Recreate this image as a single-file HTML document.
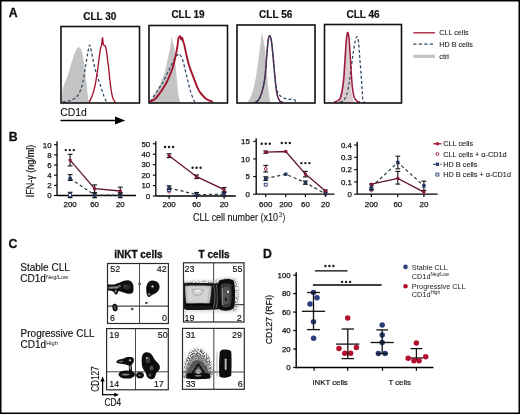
<!DOCTYPE html>
<html><head><meta charset="utf-8"><title>Figure</title><style>
html,body{margin:0;padding:0;background:#fff;overflow:hidden;}
svg{display:block;will-change:transform;font-family:"Liberation Sans",sans-serif;}
</style></head><body>
<svg width="520" height="414" viewBox="0 0 520 414">
<rect x="0" y="0" width="520" height="414" fill="#fff"/>
<filter id="gsoft" x="0" y="0" width="520" height="414" filterUnits="userSpaceOnUse"><feConvolveMatrix order="3" kernelMatrix="0.0289 0.1122 0.0289 0.1122 0.4356 0.1122 0.0289 0.1122 0.0289" divisor="1" edgeMode="duplicate"/></filter>
<g>
<rect x="0.75" y="0.75" width="518.5" height="412.5" fill="none" stroke="#000" stroke-width="1.5"/>
<text x="8.70" y="17.40" font-size="12.30" font-weight="bold" text-anchor="start" fill="#111" stroke="#111" stroke-width="0.3">A</text>
<text x="83.20" y="20.30" font-size="10.00" font-weight="bold" text-anchor="start" fill="#111" stroke="#111" stroke-width="0.2">CLL 30</text>
<text x="171.40" y="18.40" font-size="10.00" font-weight="bold" text-anchor="start" fill="#111" stroke="#111" stroke-width="0.2">CLL 19</text>
<text x="259.10" y="17.70" font-size="10.00" font-weight="bold" text-anchor="start" fill="#111" stroke="#111" stroke-width="0.2">CLL 56</text>
<text x="346.50" y="17.50" font-size="10.00" font-weight="bold" text-anchor="start" fill="#111" stroke="#111" stroke-width="0.2">CLL 46</text>
<clipPath id="hc0"><rect x="61.00" y="26.50" width="78.50" height="76.50"/></clipPath>
<g clip-path="url(#hc0)">
<path d="M62.00 102.50 C62.05 100.75 61.97 94.92 62.30 92.00 C62.63 89.08 63.08 87.78 64.00 85.00 C64.92 82.22 66.55 79.02 67.80 75.30 C69.05 71.58 70.25 66.68 71.50 62.70 C72.75 58.72 74.30 53.85 75.30 51.40 C76.30 48.95 76.88 48.67 77.50 48.00 C78.12 47.33 78.50 47.32 79.00 47.40 C79.50 47.48 79.87 47.20 80.50 48.50 C81.13 49.80 82.00 51.15 82.80 55.20 C83.60 59.25 84.47 66.10 85.30 72.80 C86.13 79.50 87.17 90.45 87.80 95.40 C88.43 100.35 88.88 101.32 89.10 102.50 L89.10 103.00 L62.00 103.00 Z" fill="#c4c4c4"/>
<path d="M62.50 102.00 C63.80 101.77 68.22 101.23 70.30 100.60 C72.38 99.97 73.75 99.07 75.00 98.20 C76.25 97.33 76.88 96.77 77.80 95.40 C78.72 94.03 79.67 92.10 80.50 90.00 C81.33 87.90 82.00 86.50 82.80 82.80 C83.60 79.10 84.47 72.82 85.30 67.80 C86.13 62.78 87.08 56.47 87.80 52.70 C88.52 48.93 88.97 45.20 89.60 45.20 C90.23 45.20 90.63 48.52 91.60 52.70 C92.57 56.88 93.93 64.87 95.40 70.30 C96.87 75.73 98.95 80.92 100.40 85.30 C101.85 89.68 103.07 93.85 104.10 96.60 C105.13 99.35 106.18 100.93 106.60 101.80" fill="none" stroke="#2e4862" stroke-width="1.25" stroke-dasharray="3 2.2"/>
<path d="M89.00 102.40 C89.48 101.43 90.93 99.18 91.90 96.60 C92.87 94.02 93.98 90.45 94.80 86.90 C95.62 83.35 96.15 79.53 96.80 75.30 C97.45 71.07 98.18 65.38 98.70 61.50 C99.22 57.62 99.55 54.33 99.90 52.00 C100.25 49.67 100.50 48.75 100.80 47.50 C101.10 46.25 101.47 45.83 101.70 44.50 C101.93 43.17 102.07 40.62 102.20 39.50 C102.33 38.38 102.38 37.63 102.50 37.80 C102.62 37.97 102.75 39.38 102.90 40.50 C103.05 41.62 103.13 43.67 103.40 44.50 C103.67 45.33 104.17 45.22 104.50 45.50 C104.83 45.78 105.15 45.70 105.40 46.20 C105.65 46.70 105.77 47.28 106.00 48.50 C106.23 49.72 106.55 51.67 106.80 53.50 C107.05 55.33 107.20 57.15 107.50 59.50 C107.80 61.85 108.15 63.68 108.60 67.60 C109.05 71.52 109.57 78.17 110.20 83.00 C110.83 87.83 111.58 93.37 112.40 96.60 C113.22 99.83 114.65 101.43 115.10 102.40" fill="none" stroke="#a3142f" stroke-width="1.35"/>
</g>
<rect x="61.00" y="26.50" width="78.50" height="76.50" fill="none" stroke="#111" stroke-width="1.6"/>
<clipPath id="hc1"><rect x="149.00" y="25.50" width="78.50" height="77.50"/></clipPath>
<g clip-path="url(#hc1)">
<path d="M150.00 101.80 C150.97 100.25 153.85 96.00 155.80 92.50 C157.75 89.00 160.07 84.72 161.70 80.80 C163.33 76.88 164.47 73.25 165.60 69.00 C166.73 64.75 167.68 59.22 168.50 55.30 C169.32 51.38 170.00 48.60 170.50 45.50 C171.00 42.40 171.17 37.28 171.50 36.70 C171.83 36.12 172.02 40.20 172.50 42.00 C172.98 43.80 173.92 43.98 174.40 47.50 C174.88 51.02 174.97 57.55 175.40 63.10 C175.83 68.65 176.52 75.57 177.00 80.80 C177.48 86.03 177.75 91.00 178.30 94.50 C178.85 98.00 179.97 100.58 180.30 101.80 L180.30 103.00 L150.00 103.00 Z" fill="#c4c4c4"/>
<path d="M150.50 101.50 C150.85 100.90 151.43 99.73 152.60 97.90 C153.77 96.07 155.83 93.02 157.50 90.50 C159.17 87.98 161.10 85.38 162.60 82.80 C164.10 80.22 165.25 77.50 166.50 75.00 C167.75 72.50 168.65 70.68 170.10 67.80 C171.55 64.92 173.88 59.90 175.20 57.70 C176.52 55.50 177.28 55.18 178.00 54.60 C178.72 54.02 178.72 53.27 179.50 54.20 C180.28 55.13 181.53 56.68 182.70 60.20 C183.87 63.72 185.25 70.28 186.50 75.30 C187.75 80.32 188.95 86.08 190.20 90.30 C191.45 94.52 193.03 98.68 194.00 100.60 C194.97 102.52 195.67 101.60 196.00 101.80" fill="none" stroke="#2e4862" stroke-width="1.25" stroke-dasharray="3 2.2"/>
<path d="M149.60 101.80 C150.50 101.33 153.25 100.50 155.00 99.00 C156.75 97.50 158.52 94.97 160.10 92.80 C161.68 90.63 163.25 88.08 164.50 86.00 C165.75 83.92 166.60 82.38 167.60 80.30 C168.60 78.22 169.65 75.58 170.50 73.50 C171.35 71.42 171.92 70.43 172.70 67.80 C173.48 65.17 174.45 61.05 175.20 57.70 C175.95 54.35 176.67 50.90 177.20 47.70 C177.73 44.50 178.07 40.28 178.40 38.50 C178.73 36.72 178.90 37.38 179.20 37.00 C179.50 36.62 179.87 35.78 180.20 36.20 C180.53 36.62 180.87 39.23 181.20 39.50 C181.53 39.77 181.87 37.47 182.20 37.80 C182.53 38.13 182.85 40.30 183.20 41.50 C183.55 42.70 183.75 42.72 184.30 45.00 C184.85 47.28 185.72 51.83 186.50 55.20 C187.28 58.57 187.97 61.85 189.00 65.20 C190.03 68.55 191.45 71.95 192.70 75.30 C193.95 78.65 195.37 82.60 196.50 85.30 C197.63 88.00 198.45 89.78 199.50 91.50 C200.55 93.22 201.55 94.27 202.80 95.60 C204.05 96.93 205.33 98.47 207.00 99.50 C208.67 100.53 211.83 101.42 212.80 101.80" fill="none" stroke="#a3142f" stroke-width="1.90"/>
</g>
<rect x="149.00" y="25.50" width="78.50" height="77.50" fill="none" stroke="#111" stroke-width="1.6"/>
<clipPath id="hc2"><rect x="237.00" y="25.00" width="78.00" height="78.00"/></clipPath>
<g clip-path="url(#hc2)">
<path d="M247.70 102.30 C248.37 101.00 250.38 98.42 251.70 94.50 C253.02 90.58 254.47 84.68 255.60 78.80 C256.73 72.92 257.68 65.07 258.50 59.20 C259.32 53.33 259.95 47.83 260.50 43.60 C261.05 39.37 261.32 34.45 261.80 33.80 C262.28 33.15 262.80 36.43 263.40 39.70 C264.00 42.97 264.82 47.87 265.40 53.40 C265.98 58.93 266.42 67.03 266.90 72.90 C267.38 78.77 267.75 83.78 268.30 88.60 C268.85 93.42 269.88 99.60 270.20 101.80 L270.20 103.00 L247.70 103.00 Z" fill="#c4c4c4"/>
<path d="M255.60 102.30 C256.25 101.65 258.20 101.02 259.50 98.40 C260.80 95.78 262.42 90.85 263.40 86.60 C264.38 82.35 264.82 78.43 265.40 72.90 C265.98 67.37 266.42 58.93 266.90 53.40 C267.38 47.87 267.83 42.65 268.30 39.70 C268.77 36.75 269.22 35.70 269.70 35.70 C270.18 35.70 270.68 36.75 271.20 39.70 C271.72 42.65 272.30 48.52 272.80 53.40 C273.30 58.28 273.75 64.12 274.20 69.00 C274.65 73.88 275.02 78.45 275.50 82.70 C275.98 86.95 276.35 91.40 277.10 94.50 C277.85 97.60 279.02 100.00 280.00 101.30 C280.98 102.60 282.50 102.13 283.00 102.30" fill="none" stroke="#5e1f4c" stroke-width="1.50"/>
<path d="M256.00 102.30 C256.58 101.65 258.27 101.02 259.50 98.40 C260.73 95.78 262.42 90.85 263.40 86.60 C264.38 82.35 264.82 78.43 265.40 72.90 C265.98 67.37 266.42 58.93 266.90 53.40 C267.38 47.87 267.83 42.68 268.30 39.70 C268.77 36.72 269.22 35.50 269.70 35.50 C270.18 35.50 270.68 36.72 271.20 39.70 C271.72 42.68 272.30 48.52 272.80 53.40 C273.30 58.28 273.75 64.12 274.20 69.00 C274.65 73.88 274.95 78.87 275.50 82.70 C276.05 86.53 276.58 89.72 277.50 92.00 C278.42 94.28 279.77 95.33 281.00 96.40 C282.23 97.47 283.60 97.92 284.90 98.40 C286.20 98.88 287.33 99.15 288.80 99.30 C290.27 99.45 292.50 98.85 293.70 99.30 C294.90 99.75 295.62 101.55 296.00 102.00" fill="none" stroke="#2e4862" stroke-width="1.25" stroke-dasharray="3 2.2"/>
</g>
<rect x="237.00" y="25.00" width="78.00" height="78.00" fill="none" stroke="#111" stroke-width="1.6"/>
<clipPath id="hc3"><rect x="324.50" y="24.50" width="77.00" height="78.50"/></clipPath>
<g clip-path="url(#hc3)">
<path d="M337.80 101.80 C338.30 100.17 339.97 96.30 340.80 92.00 C341.63 87.70 342.17 82.17 342.80 76.00 C343.43 69.83 344.05 61.55 344.60 55.00 C345.15 48.45 345.72 40.57 346.10 36.70 C346.48 32.83 346.58 31.47 346.90 31.80 C347.22 32.13 347.62 34.83 348.00 38.70 C348.38 42.57 348.80 48.95 349.20 55.00 C349.60 61.05 350.02 69.00 350.40 75.00 C350.78 81.00 350.98 86.53 351.50 91.00 C352.02 95.47 353.17 100.00 353.50 101.80 L353.50 103.00 L337.80 103.00 Z" fill="#d9cace"/>
<path d="M340.00 102.00 C340.43 101.88 341.52 102.40 342.60 101.30 C343.68 100.20 345.37 98.67 346.50 95.40 C347.63 92.13 348.58 86.60 349.40 81.70 C350.22 76.80 350.75 70.88 351.40 66.00 C352.05 61.12 352.65 56.63 353.30 52.40 C353.95 48.17 354.65 43.22 355.30 40.60 C355.95 37.98 356.65 36.37 357.20 36.70 C357.75 37.03 358.17 39.02 358.60 42.60 C359.03 46.18 359.37 52.67 359.80 58.20 C360.23 63.73 360.82 70.58 361.20 75.80 C361.58 81.02 361.78 85.25 362.10 89.50 C362.42 93.75 362.62 99.22 363.10 101.30 C363.58 103.38 364.68 101.88 365.00 102.00" fill="none" stroke="#2e4862" stroke-width="1.25" stroke-dasharray="3 2.2"/>
<path d="M334.00 102.00 C334.45 101.88 335.60 102.07 336.70 101.30 C337.80 100.53 339.47 100.67 340.60 97.40 C341.73 94.13 342.78 87.58 343.50 81.70 C344.22 75.82 344.47 68.62 344.90 62.10 C345.33 55.58 345.67 47.48 346.10 42.60 C346.53 37.72 347.05 33.78 347.50 32.80 C347.95 31.82 348.38 33.43 348.80 36.70 C349.22 39.97 349.60 46.53 350.00 52.40 C350.40 58.27 350.80 66.03 351.20 71.90 C351.60 77.77 351.88 83.35 352.40 87.60 C352.92 91.85 353.50 95.12 354.30 97.40 C355.10 99.68 356.25 100.53 357.20 101.30 C358.15 102.07 359.53 101.88 360.00 102.00" fill="none" stroke="#9e1a3c" stroke-width="1.55"/>
</g>
<rect x="324.50" y="24.50" width="77.00" height="78.50" fill="none" stroke="#111" stroke-width="1.6"/>
<line x1="413.30" y1="32.80" x2="435.00" y2="32.80" stroke="#a3142f" stroke-width="1.30" />
<text x="439.30" y="35.20" font-size="7.20" font-weight="normal" text-anchor="start" fill="#222" stroke="#222" stroke-width="0.1">CLL cells</text>
<line x1="413.30" y1="44.20" x2="435.00" y2="44.20" stroke="#2e4862" stroke-width="1.20" stroke-dasharray="3.2 2.3"/>
<text x="439.30" y="46.60" font-size="7.20" font-weight="normal" text-anchor="start" fill="#222" stroke="#222" stroke-width="0.1">HD B cells</text>
<line x1="413.30" y1="56.30" x2="435.00" y2="56.30" stroke="#c6c6c6" stroke-width="3.30" />
<text x="439.30" y="58.60" font-size="7.20" font-weight="normal" text-anchor="start" fill="#222" stroke="#222" stroke-width="0.1">ctrl</text>
<text x="60.20" y="115.80" font-size="10.40" font-weight="normal" text-anchor="start" fill="#111" stroke="#111" stroke-width="0.1">CD1d</text>
<line x1="60.50" y1="120.50" x2="117.00" y2="120.50" stroke="#000" stroke-width="1.35" />
<path d="M125.2 120.5 L115 116.6 L115 124.4 Z" fill="#000"/>
<text x="8.80" y="141.40" font-size="12.30" font-weight="bold" text-anchor="start" fill="#111" stroke="#111" stroke-width="0.3">B</text>
<line x1="57.00" y1="141.30" x2="57.00" y2="195.50" stroke="#000" stroke-width="1.30" />
<line x1="57.00" y1="195.50" x2="136.00" y2="195.50" stroke="#000" stroke-width="1.30" />
<line x1="54.00" y1="195.50" x2="57.00" y2="195.50" stroke="#000" stroke-width="1.10" />
<text x="51.60" y="198.30" font-size="7.90" font-weight="normal" text-anchor="end" fill="#111" stroke="#111" stroke-width="0.25">0</text>
<line x1="54.00" y1="185.34" x2="57.00" y2="185.34" stroke="#000" stroke-width="1.10" />
<text x="51.60" y="188.14" font-size="7.90" font-weight="normal" text-anchor="end" fill="#111" stroke="#111" stroke-width="0.25">2</text>
<line x1="54.00" y1="175.18" x2="57.00" y2="175.18" stroke="#000" stroke-width="1.10" />
<text x="51.60" y="177.98" font-size="7.90" font-weight="normal" text-anchor="end" fill="#111" stroke="#111" stroke-width="0.25">4</text>
<line x1="54.00" y1="165.02" x2="57.00" y2="165.02" stroke="#000" stroke-width="1.10" />
<text x="51.60" y="167.82" font-size="7.90" font-weight="normal" text-anchor="end" fill="#111" stroke="#111" stroke-width="0.25">6</text>
<line x1="54.00" y1="154.86" x2="57.00" y2="154.86" stroke="#000" stroke-width="1.10" />
<text x="51.60" y="157.66" font-size="7.90" font-weight="normal" text-anchor="end" fill="#111" stroke="#111" stroke-width="0.25">8</text>
<line x1="54.00" y1="144.70" x2="57.00" y2="144.70" stroke="#000" stroke-width="1.10" />
<text x="51.60" y="147.50" font-size="7.90" font-weight="normal" text-anchor="end" fill="#111" stroke="#111" stroke-width="0.25">10</text>
<line x1="70.10" y1="195.50" x2="70.10" y2="198.20" stroke="#000" stroke-width="1.20" />
<line x1="94.60" y1="195.50" x2="94.60" y2="198.20" stroke="#000" stroke-width="1.20" />
<line x1="120.30" y1="195.50" x2="120.30" y2="198.20" stroke="#000" stroke-width="1.20" />
<text x="70.10" y="206.90" font-size="7.90" font-weight="normal" text-anchor="middle" fill="#111" stroke="#111" stroke-width="0.25">200</text>
<text x="94.60" y="206.90" font-size="7.90" font-weight="normal" text-anchor="middle" fill="#111" stroke="#111" stroke-width="0.25">60</text>
<text x="120.30" y="206.90" font-size="7.90" font-weight="normal" text-anchor="middle" fill="#111" stroke="#111" stroke-width="0.25">20</text>
<line x1="70.10" y1="192.30" x2="70.10" y2="197.60" stroke="#1a1a1a" stroke-width="1.15" />
<line x1="67.70" y1="192.30" x2="72.50" y2="192.30" stroke="#1a1a1a" stroke-width="1.15" />
<line x1="67.70" y1="197.60" x2="72.50" y2="197.60" stroke="#1a1a1a" stroke-width="1.15" />
<circle cx="70.10" cy="195.00" r="1.45" fill="#fff" stroke="#9a1a30" stroke-width="0.9"/>
<rect x="68.65" y="193.55" width="2.9" height="2.9" fill="#fff" stroke="#2b3d72" stroke-width="0.9"/>
<polyline points="70.10,178.50 94.60,195.00 120.30,195.00" fill="none" stroke="#28403f" stroke-width="1.25" stroke-dasharray="3.2 2.6"/>
<line x1="70.10" y1="174.60" x2="70.10" y2="180.40" stroke="#1a1a1a" stroke-width="1.15" />
<line x1="67.70" y1="174.60" x2="72.50" y2="174.60" stroke="#1a1a1a" stroke-width="1.15" />
<line x1="67.70" y1="180.40" x2="72.50" y2="180.40" stroke="#1a1a1a" stroke-width="1.15" />
<rect x="68.40" y="176.80" width="3.4" height="3.4" fill="#24355c"/>
<line x1="94.60" y1="192.50" x2="94.60" y2="197.60" stroke="#1a1a1a" stroke-width="1.15" />
<line x1="92.20" y1="192.50" x2="97.00" y2="192.50" stroke="#1a1a1a" stroke-width="1.15" />
<line x1="92.20" y1="197.60" x2="97.00" y2="197.60" stroke="#1a1a1a" stroke-width="1.15" />
<rect x="92.90" y="193.30" width="3.4" height="3.4" fill="#24355c"/>
<line x1="120.30" y1="192.50" x2="120.30" y2="197.60" stroke="#1a1a1a" stroke-width="1.15" />
<line x1="117.90" y1="192.50" x2="122.70" y2="192.50" stroke="#1a1a1a" stroke-width="1.15" />
<line x1="117.90" y1="197.60" x2="122.70" y2="197.60" stroke="#1a1a1a" stroke-width="1.15" />
<rect x="118.60" y="193.30" width="3.4" height="3.4" fill="#24355c"/>
<polyline points="70.10,160.10 94.60,188.70 120.30,191.00" fill="none" stroke="#64132d" stroke-width="1.3"/>
<line x1="70.10" y1="154.30" x2="70.10" y2="165.90" stroke="#1a1a1a" stroke-width="1.15" />
<line x1="67.70" y1="154.30" x2="72.50" y2="154.30" stroke="#1a1a1a" stroke-width="1.15" />
<line x1="67.70" y1="165.90" x2="72.50" y2="165.90" stroke="#1a1a1a" stroke-width="1.15" />
<circle cx="70.10" cy="160.10" r="1.7" fill="#8a1733"/>
<line x1="94.60" y1="184.90" x2="94.60" y2="193.00" stroke="#1a1a1a" stroke-width="1.15" />
<line x1="92.20" y1="184.90" x2="97.00" y2="184.90" stroke="#1a1a1a" stroke-width="1.15" />
<line x1="92.20" y1="193.00" x2="97.00" y2="193.00" stroke="#1a1a1a" stroke-width="1.15" />
<circle cx="94.60" cy="188.70" r="1.7" fill="#8a1733"/>
<line x1="120.30" y1="187.20" x2="120.30" y2="193.90" stroke="#1a1a1a" stroke-width="1.15" />
<line x1="117.90" y1="187.20" x2="122.70" y2="187.20" stroke="#1a1a1a" stroke-width="1.15" />
<line x1="117.90" y1="193.90" x2="122.70" y2="193.90" stroke="#1a1a1a" stroke-width="1.15" />
<circle cx="120.30" cy="191.00" r="1.7" fill="#8a1733"/>
<circle cx="65.80" cy="150.10" r="1.2" fill="#1a1a1a"/>
<circle cx="69.80" cy="150.10" r="1.2" fill="#1a1a1a"/>
<circle cx="73.80" cy="150.10" r="1.2" fill="#1a1a1a"/>
<line x1="155.80" y1="141.30" x2="155.80" y2="196.00" stroke="#000" stroke-width="1.30" />
<line x1="155.80" y1="196.00" x2="235.80" y2="196.00" stroke="#000" stroke-width="1.30" />
<line x1="152.80" y1="196.00" x2="155.80" y2="196.00" stroke="#000" stroke-width="1.10" />
<text x="150.20" y="198.80" font-size="7.90" font-weight="normal" text-anchor="end" fill="#111" stroke="#111" stroke-width="0.25">0</text>
<line x1="152.80" y1="185.56" x2="155.80" y2="185.56" stroke="#000" stroke-width="1.10" />
<text x="150.20" y="188.36" font-size="7.90" font-weight="normal" text-anchor="end" fill="#111" stroke="#111" stroke-width="0.25">10</text>
<line x1="152.80" y1="175.12" x2="155.80" y2="175.12" stroke="#000" stroke-width="1.10" />
<text x="150.20" y="177.92" font-size="7.90" font-weight="normal" text-anchor="end" fill="#111" stroke="#111" stroke-width="0.25">20</text>
<line x1="152.80" y1="164.68" x2="155.80" y2="164.68" stroke="#000" stroke-width="1.10" />
<text x="150.20" y="167.48" font-size="7.90" font-weight="normal" text-anchor="end" fill="#111" stroke="#111" stroke-width="0.25">30</text>
<line x1="152.80" y1="154.24" x2="155.80" y2="154.24" stroke="#000" stroke-width="1.10" />
<text x="150.20" y="157.04" font-size="7.90" font-weight="normal" text-anchor="end" fill="#111" stroke="#111" stroke-width="0.25">40</text>
<line x1="152.80" y1="143.80" x2="155.80" y2="143.80" stroke="#000" stroke-width="1.10" />
<text x="150.20" y="146.60" font-size="7.90" font-weight="normal" text-anchor="end" fill="#111" stroke="#111" stroke-width="0.25">50</text>
<line x1="169.10" y1="196.00" x2="169.10" y2="198.70" stroke="#000" stroke-width="1.20" />
<line x1="196.60" y1="196.00" x2="196.60" y2="198.70" stroke="#000" stroke-width="1.20" />
<line x1="224.10" y1="196.00" x2="224.10" y2="198.70" stroke="#000" stroke-width="1.20" />
<text x="169.10" y="206.90" font-size="7.90" font-weight="normal" text-anchor="middle" fill="#111" stroke="#111" stroke-width="0.25">200</text>
<text x="196.60" y="206.90" font-size="7.90" font-weight="normal" text-anchor="middle" fill="#111" stroke="#111" stroke-width="0.25">60</text>
<text x="224.10" y="206.90" font-size="7.90" font-weight="normal" text-anchor="middle" fill="#111" stroke="#111" stroke-width="0.25">20</text>
<circle cx="169.10" cy="191.70" r="1.45" fill="#fff" stroke="#9a1a30" stroke-width="0.9"/>
<rect x="167.65" y="188.55" width="2.9" height="2.9" fill="#fff" stroke="#2b3d72" stroke-width="0.9"/>
<polyline points="169.10,187.90 196.60,194.70 224.10,194.20" fill="none" stroke="#28403f" stroke-width="1.25" stroke-dasharray="3.2 2.6"/>
<line x1="169.10" y1="185.80" x2="169.10" y2="189.60" stroke="#1a1a1a" stroke-width="1.15" />
<line x1="166.70" y1="185.80" x2="171.50" y2="185.80" stroke="#1a1a1a" stroke-width="1.15" />
<line x1="166.70" y1="189.60" x2="171.50" y2="189.60" stroke="#1a1a1a" stroke-width="1.15" />
<rect x="167.40" y="186.20" width="3.4" height="3.4" fill="#24355c"/>
<line x1="196.60" y1="192.50" x2="196.60" y2="196.00" stroke="#1a1a1a" stroke-width="1.15" />
<line x1="194.20" y1="192.50" x2="199.00" y2="192.50" stroke="#1a1a1a" stroke-width="1.15" />
<line x1="194.20" y1="196.00" x2="199.00" y2="196.00" stroke="#1a1a1a" stroke-width="1.15" />
<rect x="194.90" y="193.00" width="3.4" height="3.4" fill="#24355c"/>
<line x1="224.10" y1="192.50" x2="224.10" y2="196.00" stroke="#1a1a1a" stroke-width="1.15" />
<line x1="221.70" y1="192.50" x2="226.50" y2="192.50" stroke="#1a1a1a" stroke-width="1.15" />
<line x1="221.70" y1="196.00" x2="226.50" y2="196.00" stroke="#1a1a1a" stroke-width="1.15" />
<rect x="222.40" y="192.50" width="3.4" height="3.4" fill="#24355c"/>
<polyline points="169.10,155.70 196.60,176.70 224.10,189.60" fill="none" stroke="#64132d" stroke-width="1.3"/>
<line x1="169.10" y1="153.80" x2="169.10" y2="157.60" stroke="#1a1a1a" stroke-width="1.15" />
<line x1="166.70" y1="153.80" x2="171.50" y2="153.80" stroke="#1a1a1a" stroke-width="1.15" />
<line x1="166.70" y1="157.60" x2="171.50" y2="157.60" stroke="#1a1a1a" stroke-width="1.15" />
<circle cx="169.10" cy="155.70" r="1.7" fill="#8a1733"/>
<line x1="196.60" y1="175.00" x2="196.60" y2="178.50" stroke="#1a1a1a" stroke-width="1.15" />
<line x1="194.20" y1="175.00" x2="199.00" y2="175.00" stroke="#1a1a1a" stroke-width="1.15" />
<line x1="194.20" y1="178.50" x2="199.00" y2="178.50" stroke="#1a1a1a" stroke-width="1.15" />
<circle cx="196.60" cy="176.70" r="1.7" fill="#8a1733"/>
<line x1="224.10" y1="187.50" x2="224.10" y2="191.70" stroke="#1a1a1a" stroke-width="1.15" />
<line x1="221.70" y1="187.50" x2="226.50" y2="187.50" stroke="#1a1a1a" stroke-width="1.15" />
<line x1="221.70" y1="191.70" x2="226.50" y2="191.70" stroke="#1a1a1a" stroke-width="1.15" />
<circle cx="224.10" cy="189.60" r="1.7" fill="#8a1733"/>
<circle cx="165.10" cy="147.00" r="1.2" fill="#1a1a1a"/>
<circle cx="169.10" cy="147.00" r="1.2" fill="#1a1a1a"/>
<circle cx="173.10" cy="147.00" r="1.2" fill="#1a1a1a"/>
<circle cx="192.60" cy="167.80" r="1.2" fill="#1a1a1a"/>
<circle cx="196.60" cy="167.80" r="1.2" fill="#1a1a1a"/>
<circle cx="200.60" cy="167.80" r="1.2" fill="#1a1a1a"/>
<line x1="256.20" y1="138.20" x2="256.20" y2="194.20" stroke="#000" stroke-width="1.30" />
<line x1="256.20" y1="194.20" x2="334.40" y2="194.20" stroke="#000" stroke-width="1.30" />
<line x1="253.20" y1="194.20" x2="256.20" y2="194.20" stroke="#000" stroke-width="1.10" />
<text x="249.90" y="197.00" font-size="7.90" font-weight="normal" text-anchor="end" fill="#111" stroke="#111" stroke-width="0.25">0</text>
<line x1="253.20" y1="176.56" x2="256.20" y2="176.56" stroke="#000" stroke-width="1.10" />
<text x="249.90" y="179.37" font-size="7.90" font-weight="normal" text-anchor="end" fill="#111" stroke="#111" stroke-width="0.25">5</text>
<line x1="253.20" y1="158.93" x2="256.20" y2="158.93" stroke="#000" stroke-width="1.10" />
<text x="249.90" y="161.73" font-size="7.90" font-weight="normal" text-anchor="end" fill="#111" stroke="#111" stroke-width="0.25">10</text>
<line x1="253.20" y1="141.29" x2="256.20" y2="141.29" stroke="#000" stroke-width="1.10" />
<text x="249.90" y="144.09" font-size="7.90" font-weight="normal" text-anchor="end" fill="#111" stroke="#111" stroke-width="0.25">15</text>
<line x1="265.70" y1="194.20" x2="265.70" y2="196.90" stroke="#000" stroke-width="1.20" />
<line x1="285.80" y1="194.20" x2="285.80" y2="196.90" stroke="#000" stroke-width="1.20" />
<line x1="305.40" y1="194.20" x2="305.40" y2="196.90" stroke="#000" stroke-width="1.20" />
<line x1="325.50" y1="194.20" x2="325.50" y2="196.90" stroke="#000" stroke-width="1.20" />
<text x="265.70" y="206.90" font-size="7.90" font-weight="normal" text-anchor="middle" fill="#111" stroke="#111" stroke-width="0.25">600</text>
<text x="285.80" y="206.90" font-size="7.90" font-weight="normal" text-anchor="middle" fill="#111" stroke="#111" stroke-width="0.25">200</text>
<text x="305.40" y="206.90" font-size="7.90" font-weight="normal" text-anchor="middle" fill="#111" stroke="#111" stroke-width="0.25">60</text>
<text x="325.50" y="206.90" font-size="7.90" font-weight="normal" text-anchor="middle" fill="#111" stroke="#111" stroke-width="0.25">20</text>
<line x1="265.70" y1="165.40" x2="265.70" y2="172.00" stroke="#1a1a1a" stroke-width="1.15" />
<line x1="263.30" y1="165.40" x2="268.10" y2="165.40" stroke="#1a1a1a" stroke-width="1.15" />
<line x1="263.30" y1="172.00" x2="268.10" y2="172.00" stroke="#1a1a1a" stroke-width="1.15" />
<circle cx="265.70" cy="169.00" r="1.45" fill="#fff" stroke="#9a1a30" stroke-width="0.9"/>
<rect x="264.25" y="183.25" width="2.9" height="2.9" fill="#fff" stroke="#2b3d72" stroke-width="0.9"/>
<polyline points="265.70,178.60 285.80,174.20 305.40,182.60 325.50,193.80" fill="none" stroke="#28403f" stroke-width="1.25" stroke-dasharray="3.2 2.6"/>
<line x1="265.70" y1="176.80" x2="265.70" y2="180.40" stroke="#1a1a1a" stroke-width="1.15" />
<line x1="263.30" y1="176.80" x2="268.10" y2="176.80" stroke="#1a1a1a" stroke-width="1.15" />
<line x1="263.30" y1="180.40" x2="268.10" y2="180.40" stroke="#1a1a1a" stroke-width="1.15" />
<rect x="264.00" y="176.90" width="3.4" height="3.4" fill="#24355c"/>
<rect x="284.10" y="172.50" width="3.4" height="3.4" fill="#24355c"/>
<line x1="305.40" y1="181.00" x2="305.40" y2="184.30" stroke="#1a1a1a" stroke-width="1.15" />
<line x1="303.00" y1="181.00" x2="307.80" y2="181.00" stroke="#1a1a1a" stroke-width="1.15" />
<line x1="303.00" y1="184.30" x2="307.80" y2="184.30" stroke="#1a1a1a" stroke-width="1.15" />
<rect x="303.70" y="180.90" width="3.4" height="3.4" fill="#24355c"/>
<rect x="323.80" y="192.10" width="3.4" height="3.4" fill="#24355c"/>
<polyline points="265.70,152.10 285.80,151.50 305.40,174.10 325.50,191.00" fill="none" stroke="#64132d" stroke-width="1.3"/>
<line x1="265.70" y1="151.00" x2="265.70" y2="153.30" stroke="#1a1a1a" stroke-width="1.15" />
<line x1="263.30" y1="151.00" x2="268.10" y2="151.00" stroke="#1a1a1a" stroke-width="1.15" />
<line x1="263.30" y1="153.30" x2="268.10" y2="153.30" stroke="#1a1a1a" stroke-width="1.15" />
<circle cx="265.70" cy="152.10" r="1.7" fill="#8a1733"/>
<circle cx="285.80" cy="151.50" r="1.7" fill="#8a1733"/>
<line x1="305.40" y1="171.40" x2="305.40" y2="176.90" stroke="#1a1a1a" stroke-width="1.15" />
<line x1="303.00" y1="171.40" x2="307.80" y2="171.40" stroke="#1a1a1a" stroke-width="1.15" />
<line x1="303.00" y1="176.90" x2="307.80" y2="176.90" stroke="#1a1a1a" stroke-width="1.15" />
<circle cx="305.40" cy="174.10" r="1.7" fill="#8a1733"/>
<line x1="325.50" y1="190.00" x2="325.50" y2="192.00" stroke="#1a1a1a" stroke-width="1.15" />
<line x1="323.10" y1="190.00" x2="327.90" y2="190.00" stroke="#1a1a1a" stroke-width="1.15" />
<line x1="323.10" y1="192.00" x2="327.90" y2="192.00" stroke="#1a1a1a" stroke-width="1.15" />
<circle cx="325.50" cy="191.00" r="1.7" fill="#8a1733"/>
<circle cx="261.70" cy="143.70" r="1.2" fill="#1a1a1a"/>
<circle cx="265.70" cy="143.70" r="1.2" fill="#1a1a1a"/>
<circle cx="269.70" cy="143.70" r="1.2" fill="#1a1a1a"/>
<circle cx="281.80" cy="143.00" r="1.2" fill="#1a1a1a"/>
<circle cx="285.80" cy="143.00" r="1.2" fill="#1a1a1a"/>
<circle cx="289.80" cy="143.00" r="1.2" fill="#1a1a1a"/>
<circle cx="301.40" cy="163.10" r="1.2" fill="#1a1a1a"/>
<circle cx="305.40" cy="163.10" r="1.2" fill="#1a1a1a"/>
<circle cx="309.40" cy="163.10" r="1.2" fill="#1a1a1a"/>
<line x1="357.20" y1="141.80" x2="357.20" y2="194.20" stroke="#000" stroke-width="1.30" />
<line x1="357.20" y1="194.20" x2="437.60" y2="194.20" stroke="#000" stroke-width="1.30" />
<line x1="354.20" y1="194.20" x2="357.20" y2="194.20" stroke="#000" stroke-width="1.10" />
<text x="351.90" y="197.00" font-size="7.90" font-weight="normal" text-anchor="end" fill="#111" stroke="#111" stroke-width="0.25">0</text>
<line x1="354.20" y1="181.90" x2="357.20" y2="181.90" stroke="#000" stroke-width="1.10" />
<text x="351.90" y="184.70" font-size="7.90" font-weight="normal" text-anchor="end" fill="#111" stroke="#111" stroke-width="0.25">0.1</text>
<line x1="354.20" y1="169.60" x2="357.20" y2="169.60" stroke="#000" stroke-width="1.10" />
<text x="351.90" y="172.40" font-size="7.90" font-weight="normal" text-anchor="end" fill="#111" stroke="#111" stroke-width="0.25">0.2</text>
<line x1="354.20" y1="157.30" x2="357.20" y2="157.30" stroke="#000" stroke-width="1.10" />
<text x="351.90" y="160.10" font-size="7.90" font-weight="normal" text-anchor="end" fill="#111" stroke="#111" stroke-width="0.25">0.3</text>
<line x1="354.20" y1="145.00" x2="357.20" y2="145.00" stroke="#000" stroke-width="1.10" />
<text x="351.90" y="147.80" font-size="7.90" font-weight="normal" text-anchor="end" fill="#111" stroke="#111" stroke-width="0.25">0.4</text>
<line x1="371.40" y1="194.20" x2="371.40" y2="196.90" stroke="#000" stroke-width="1.20" />
<line x1="397.80" y1="194.20" x2="397.80" y2="196.90" stroke="#000" stroke-width="1.20" />
<line x1="423.90" y1="194.20" x2="423.90" y2="196.90" stroke="#000" stroke-width="1.20" />
<text x="371.40" y="206.90" font-size="7.90" font-weight="normal" text-anchor="middle" fill="#111" stroke="#111" stroke-width="0.25">200</text>
<text x="397.80" y="206.90" font-size="7.90" font-weight="normal" text-anchor="middle" fill="#111" stroke="#111" stroke-width="0.25">60</text>
<text x="423.90" y="206.90" font-size="7.90" font-weight="normal" text-anchor="middle" fill="#111" stroke="#111" stroke-width="0.25">20</text>
<circle cx="371.40" cy="190.40" r="1.45" fill="#fff" stroke="#9a1a30" stroke-width="0.9"/>
<rect x="369.95" y="187.55" width="2.9" height="2.9" fill="#fff" stroke="#2b3d72" stroke-width="0.9"/>
<polyline points="371.40,186.80 397.80,162.50 423.90,185.80" fill="none" stroke="#28403f" stroke-width="1.25" stroke-dasharray="3.2 2.6"/>
<line x1="371.40" y1="184.00" x2="371.40" y2="189.60" stroke="#1a1a1a" stroke-width="1.15" />
<line x1="369.00" y1="184.00" x2="373.80" y2="184.00" stroke="#1a1a1a" stroke-width="1.15" />
<line x1="369.00" y1="189.60" x2="373.80" y2="189.60" stroke="#1a1a1a" stroke-width="1.15" />
<rect x="369.70" y="185.10" width="3.4" height="3.4" fill="#24355c"/>
<line x1="397.80" y1="156.20" x2="397.80" y2="168.80" stroke="#1a1a1a" stroke-width="1.15" />
<line x1="395.40" y1="156.20" x2="400.20" y2="156.20" stroke="#1a1a1a" stroke-width="1.15" />
<line x1="395.40" y1="168.80" x2="400.20" y2="168.80" stroke="#1a1a1a" stroke-width="1.15" />
<rect x="396.10" y="160.80" width="3.4" height="3.4" fill="#24355c"/>
<line x1="423.90" y1="181.10" x2="423.90" y2="190.40" stroke="#1a1a1a" stroke-width="1.15" />
<line x1="421.50" y1="181.10" x2="426.30" y2="181.10" stroke="#1a1a1a" stroke-width="1.15" />
<line x1="421.50" y1="190.40" x2="426.30" y2="190.40" stroke="#1a1a1a" stroke-width="1.15" />
<rect x="422.20" y="184.10" width="3.4" height="3.4" fill="#24355c"/>
<polyline points="371.40,184.10 397.80,178.40 423.90,192.10" fill="none" stroke="#64132d" stroke-width="1.3"/>
<circle cx="371.40" cy="184.10" r="1.7" fill="#8a1733"/>
<line x1="397.80" y1="171.40" x2="397.80" y2="184.10" stroke="#1a1a1a" stroke-width="1.15" />
<line x1="395.40" y1="171.40" x2="400.20" y2="171.40" stroke="#1a1a1a" stroke-width="1.15" />
<line x1="395.40" y1="184.10" x2="400.20" y2="184.10" stroke="#1a1a1a" stroke-width="1.15" />
<circle cx="397.80" cy="178.40" r="1.7" fill="#8a1733"/>
<circle cx="423.90" cy="192.10" r="1.7" fill="#8a1733"/>
<line x1="433.20" y1="143.80" x2="441.50" y2="143.80" stroke="#a3142f" stroke-width="1.30" />
<circle cx="437.40" cy="143.80" r="1.7" fill="#a3142f"/>
<circle cx="437.40" cy="154.00" r="1.45" fill="#fff" stroke="#9a1a30" stroke-width="0.9"/>
<line x1="433.20" y1="164.30" x2="441.50" y2="164.30" stroke="#2e4862" stroke-width="1.20" stroke-dasharray="2.2 1.4"/>
<rect x="435.70" y="162.60" width="3.4" height="3.4" fill="#2b3d72"/>
<rect x="435.95" y="173.15" width="2.9" height="2.9" fill="#fff" stroke="#2b3d72" stroke-width="0.9"/>
<text x="443.30" y="146.40" font-size="7.30" font-weight="normal" text-anchor="start" fill="#222" stroke="#222" stroke-width="0.1">CLL cells</text>
<text x="443.30" y="156.60" font-size="7.30" font-weight="normal" text-anchor="start" fill="#222" stroke="#222" stroke-width="0.1">CLL cells + &#945;-CD1d</text>
<text x="443.30" y="166.90" font-size="7.30" font-weight="normal" text-anchor="start" fill="#222" stroke="#222" stroke-width="0.1">HD B cells</text>
<text x="443.30" y="177.20" font-size="7.30" font-weight="normal" text-anchor="start" fill="#222" stroke="#222" stroke-width="0.1">HD B cells + &#945;-CD1d</text>
<text transform="translate(34.2 171.0) rotate(-90)" font-size="10" text-anchor="middle" fill="#111" stroke="#111" stroke-width="0.2" textLength="52.4" lengthAdjust="spacingAndGlyphs">IFN-&#947; (ng/ml)</text>
<text x="193.0" y="220.9" font-size="10.4" fill="#111" stroke="#111" stroke-width="0.12" textLength="85" lengthAdjust="spacingAndGlyphs">CLL cell number (x10</text>
<text x="278.7" y="216.8" font-size="6.8" fill="#111" textLength="3.4" lengthAdjust="spacingAndGlyphs">3</text>
<text x="282.5" y="220.9" font-size="10.4" fill="#111" textLength="2.8" lengthAdjust="spacingAndGlyphs">)</text>
<text x="8.40" y="247.50" font-size="12.30" font-weight="bold" text-anchor="start" fill="#111" stroke="#111" stroke-width="0.3">C</text>
<text x="20.30" y="270.80" font-size="10.00" font-weight="normal" text-anchor="start" fill="#111" stroke="#111" stroke-width="0.15">Stable CLL</text>
<text x="20.30" y="282.00" font-size="10.00" font-weight="normal" text-anchor="start" fill="#111" stroke="#111" stroke-width="0.15">CD1d</text>
<text x="46.00" y="279.00" font-size="5.60" font-weight="normal" text-anchor="start" fill="#111" >Neg/Low</text>
<text x="20.60" y="336.80" font-size="10.00" font-weight="normal" text-anchor="start" fill="#111" stroke="#111" stroke-width="0.15">Progressive CLL</text>
<text x="20.60" y="347.50" font-size="10.00" font-weight="normal" text-anchor="start" fill="#111" stroke="#111" stroke-width="0.15">CD1d</text>
<text x="46.30" y="345.00" font-size="5.60" font-weight="normal" text-anchor="start" fill="#111" >High</text>
<text x="114.20" y="257.60" font-size="10.00" font-weight="bold" text-anchor="start" fill="#111" stroke="#111" stroke-width="0.3">iNKT cells</text>
<text x="198.50" y="257.60" font-size="10.00" font-weight="bold" text-anchor="start" fill="#111" stroke="#111" stroke-width="0.3">T cells</text>
<defs><filter id="blur1" x="-20%" y="-20%" width="140%" height="140%"><feGaussianBlur stdDeviation="0.35"/></filter><filter id="halo" x="-20%" y="-20%" width="140%" height="140%"><feGaussianBlur stdDeviation="1.2"/></filter><filter id="speck" x="-20%" y="-20%" width="140%" height="140%"><feGaussianBlur in="SourceGraphic" stdDeviation="1" result="b"/><feTurbulence type="fractalNoise" baseFrequency="0.75" numOctaves="2" seed="7" result="n"/><feColorMatrix in="n" type="matrix" values="0 0 0 0 0  0 0 0 0 0  0 0 0 0 0  0 0 0 -14 7.2" result="m"/><feComposite in="b" in2="m" operator="in"/></filter></defs>
<line x1="139.50" y1="263.50" x2="139.50" y2="323.50" stroke="#4a4a4a" stroke-width="1.05" />
<line x1="107.50" y1="306.10" x2="168.40" y2="306.10" stroke="#4a4a4a" stroke-width="1.05" />
<g filter="url(#blur1)">
<path d="M107.5 284.2 C111 284.4, 113.5 284.6, 115.3 284.2 C117 283.6, 118 283, 119.5 282.8 C122 281.5, 124.5 280.5, 127.5 280.3 C130.5 280.3, 132.5 282.2, 133.2 285 C133.7 288, 133.8 291.5, 132.5 293.1 C130.5 294.3, 127 293.8, 123.5 292.5 C121.5 291.8, 119.8 291, 118.4 291.2 L117.4 293.8 C116.6 295, 114.8 294.8, 114.4 293.2 C114 291.8, 112.5 290.6, 107.5 290.6 Z" fill="#111"/>
<path d="M108.5 286.8 C111 286.4, 114 286.6, 116.5 286.2 C118 286, 119 286.6, 119 287.6 C118.5 288.5, 117 288.8, 115.5 288.6 C113 288.8, 110.5 288.8, 108.5 288.5 Z" fill="#8a8a8a"/>
<path d="M115.3 289.4 C116.2 289.5, 116.6 290.5, 116.4 292 C116 293, 115.2 292.8, 115 291.8 Z" fill="#aaa"/>
<ellipse cx="119.5" cy="286" rx="1.6" ry="0.9" fill="#777"/>
<ellipse cx="127" cy="286.8" rx="3.8" ry="2.4" fill="#2a2a2a"/>
<ellipse cx="124.5" cy="286" rx="1.5" ry="0.8" fill="#555"/>
<path d="M152 280.4 C156.5 280.2, 159.8 283, 159.6 287 C159.4 291, 156 293.5, 153 294.5 C151 295.5, 150 297.2, 148.5 296.9 C147 296.5, 146.2 293, 146.2 289 C146.2 284, 148.5 280.6, 152 280.4 Z" fill="#111"/>
<circle cx="152.5" cy="286.5" r="1.1" fill="#eee"/>
<ellipse cx="149.2" cy="294.3" rx="1.3" ry="1.3" fill="#777"/>
<ellipse cx="115.0" cy="307.5" rx="1.9" ry="3.1" transform="rotate(-10 115 307.5)" fill="#444" stroke="#111" stroke-width="1.4"/>
</g>
<circle cx="139.6" cy="283.9" r="1.3" fill="#4a4a4a"/>
<circle cx="146.4" cy="303.0" r="1.3" fill="#4a4a4a"/>
<circle cx="132.2" cy="309.0" r="1.3" fill="#4a4a4a"/>
<rect x="107.50" y="263.50" width="60.90" height="60.00" fill="none" stroke="#2a2a2a" stroke-width="1.2"/>
<text x="110.30" y="271.80" font-size="8.90" font-weight="normal" text-anchor="start" fill="#111" stroke="#111" stroke-width="0.15">52</text>
<text x="166.60" y="271.80" font-size="8.90" font-weight="normal" text-anchor="end" fill="#111" stroke="#111" stroke-width="0.15">42</text>
<text x="110.10" y="321.00" font-size="8.90" font-weight="normal" text-anchor="start" fill="#111" stroke="#111" stroke-width="0.15">6</text>
<text x="166.90" y="321.00" font-size="8.90" font-weight="normal" text-anchor="end" fill="#111" stroke="#111" stroke-width="0.15">0</text>
<line x1="213.60" y1="262.80" x2="213.60" y2="322.00" stroke="#4a4a4a" stroke-width="1.05" />
<line x1="183.50" y1="304.60" x2="244.00" y2="304.60" stroke="#4a4a4a" stroke-width="1.05" />
<clipPath id="ct1"><rect x="183.5" y="262.8" width="60.5" height="59.2"/></clipPath>
<g clip-path="url(#ct1)">
<path d="M182 281.5 C195 280, 205 280.3, 214 280.5 C220 277, 233 276, 236.5 279.5 C239 290, 239 304, 236 312 C225 313.5, 200 312.5, 182 312.5 Z" fill="#aaa" opacity="0.3" filter="url(#halo)"/>
<path d="M182 281.8 C195 280.8, 205 281, 213 281.2 C220 278, 233 277.4, 236.8 280.4 C239.3 290, 239.3 304, 236.5 310.5 C230 311, 222 310, 215 308 C205 307.5, 195 307.5, 182 307.5 Z" fill="#888" filter="url(#speck)"/>
<g filter="url(#blur1)">
<path d="M183 283.3 C195 282.8, 205 283, 213 283.3 L219 283.6 L220 309 C210 310, 198 310.2, 188 309.9 C185 309.7, 183 309, 183 307 Z" fill="#141414"/>
<path d="M185.1 285.7 C195 285.4, 204 285.5, 211.5 285.9 C211.3 292, 210.6 298, 209.5 303.6 C200 304, 193 304, 186.3 303.6 C185.5 298, 185.1 292, 185.1 285.7 Z" fill="#bcbcbc"/>
<path d="M187 287.3 C196 286.8, 203 287, 209.2 287.6 C208.9 292.5, 208 297.5, 206.8 301.8 C200 302.3, 194 302.3, 188.3 301.8 C187.5 297, 187.1 292, 187 287.3 Z" fill="#d2d2d2"/>
<path d="M192 289.5 C196 288.8, 200 289, 203.5 290 C203 293.5, 200 295.5, 197 295.5 C194 295.5, 192.5 293, 192 289.5 Z" fill="none" stroke="#999" stroke-width="0.7"/>
<ellipse cx="198" cy="290.8" rx="2.4" ry="1.1" fill="#eee"/>
<path d="M185.5 304.8 C194 304.2, 204 304.2, 213.5 304.8" fill="none" stroke="#000" stroke-width="2"/>
<path d="M213.5 285 C215.5 292, 215.5 300, 213.5 308" fill="none" stroke="#777" stroke-width="0.8"/>
<path d="M216.3 285 C217.8 292, 217.8 300, 216.3 308" fill="none" stroke="#888" stroke-width="0.7"/>
<path d="M218.6 281.5 C222 278.6, 231 278.3, 233.8 280.8 C235.4 287, 235.4 301, 234 308 C231 311, 223 311.4, 219.6 309.6 C217.6 303, 217.2 290, 218.6 281.5 Z" fill="#111"/>
<path d="M221 284.5 C224 282.8, 229 282.8, 231.2 284.5 C232 291, 231.8 300, 230.8 305.5 C228.5 307.8, 224 308, 222 306.2 C220.5 301, 220.3 291, 221 284.5 Z" fill="#3a3a3a"/>
<path d="M223.4 287.5 C225.5 286.4, 228 286.4, 229.3 287.6 C229.8 293, 229.6 299, 228.8 303 C227 304.4, 225 304.4, 224 303.2 C223 299, 222.9 292, 223.4 287.5 Z" fill="#555"/>
<path d="M222.2 288 C222.8 295, 222.8 301, 222.6 305" fill="none" stroke="#888" stroke-width="1.1"/>
<ellipse cx="228.1" cy="291.7" rx="1" ry="1.3" fill="#f2f2f2"/>
<ellipse cx="226" cy="299.5" rx="1.3" ry="2" fill="#222"/>
</g></g>
<rect x="183.50" y="262.80" width="60.50" height="59.20" fill="none" stroke="#2a2a2a" stroke-width="1.2"/>
<text x="184.60" y="271.80" font-size="8.90" font-weight="normal" text-anchor="start" fill="#111" stroke="#111" stroke-width="0.15">23</text>
<text x="242.40" y="271.80" font-size="8.90" font-weight="normal" text-anchor="end" fill="#111" stroke="#111" stroke-width="0.15">55</text>
<text x="184.60" y="320.90" font-size="8.90" font-weight="normal" text-anchor="start" fill="#111" stroke="#111" stroke-width="0.15">19</text>
<text x="241.60" y="320.90" font-size="8.90" font-weight="normal" text-anchor="end" fill="#111" stroke="#111" stroke-width="0.15">2</text>
<line x1="135.50" y1="328.60" x2="135.50" y2="389.80" stroke="#4a4a4a" stroke-width="1.05" />
<line x1="106.60" y1="371.70" x2="168.30" y2="371.70" stroke="#4a4a4a" stroke-width="1.05" />
<g filter="url(#blur1)">
<g transform="translate(0 1.6)">
<path d="M116.2 360.3 C117 357.8, 121 357.4, 124 356.8 C126 355.3, 130 355, 132.6 355.8 C134.6 356.8, 134.3 360.8, 132.2 362.4 C131.5 363, 131.6 364, 131.8 365 L132 370 L129 370 L128.8 364 C127.5 363.7, 126 363.2, 125 362.6 C122 362, 118 362.8, 116.2 360.3 Z" fill="#111"/>
<ellipse cx="130" cy="358.6" rx="1.2" ry="1" fill="#bbb"/>
<ellipse cx="121" cy="360" rx="2.5" ry="0.8" fill="#666"/>
<ellipse cx="130.3" cy="366" rx="0.7" ry="2.2" fill="#999"/>
</g>
<ellipse cx="126.8" cy="374.5" rx="8.3" ry="4.1" fill="#111"/>
<ellipse cx="125.5" cy="374.6" rx="4" ry="1.1" fill="#777"/>
<ellipse cx="140" cy="375.2" rx="3.9" ry="3.1" fill="#111"/>
<ellipse cx="139.6" cy="375.3" rx="1.5" ry="0.9" fill="#666"/>
<path d="M146.5 352.3 C150 352, 152.5 355, 154 358.5 C155.5 361.5, 159.5 363, 159.9 367 C160.2 370.5, 157 371.5, 156 373.5 C155.5 376.5, 154.5 379.2, 151.5 379.2 C148.5 379.2, 146.5 377, 146 374 C145.5 371, 142.5 369.5, 142 365.5 C141.5 361, 141.5 356, 143 354 C144 352.8, 145.5 352.3, 146.5 352.3 Z" fill="#111"/>
<ellipse cx="148" cy="360" rx="2.2" ry="3.2" fill="#3a3a3a"/>
<ellipse cx="151.5" cy="368" rx="2" ry="2.5" fill="#4a4a4a"/>
<ellipse cx="150" cy="375" rx="1.2" ry="1.5" fill="#555"/>
<circle cx="146.8" cy="358" r="0.9" fill="#ccc"/>
</g>
<rect x="106.60" y="328.60" width="61.70" height="61.20" fill="none" stroke="#2a2a2a" stroke-width="1.2"/>
<text x="109.30" y="338.00" font-size="8.90" font-weight="normal" text-anchor="start" fill="#111" stroke="#111" stroke-width="0.15">19</text>
<text x="167.70" y="338.00" font-size="8.90" font-weight="normal" text-anchor="end" fill="#111" stroke="#111" stroke-width="0.15">50</text>
<text x="109.30" y="387.20" font-size="8.90" font-weight="normal" text-anchor="start" fill="#111" stroke="#111" stroke-width="0.15">14</text>
<text x="163.80" y="387.20" font-size="8.90" font-weight="normal" text-anchor="end" fill="#111" stroke="#111" stroke-width="0.15">17</text>
<line x1="213.80" y1="328.40" x2="213.80" y2="389.30" stroke="#4a4a4a" stroke-width="1.05" />
<line x1="182.50" y1="371.90" x2="244.30" y2="371.90" stroke="#4a4a4a" stroke-width="1.05" />
<clipPath id="ct2"><rect x="182.5" y="328.4" width="61.8" height="60.9"/></clipPath>
<g clip-path="url(#ct2)">
<path d="M183.2 378 C183.2 360, 189.5 349.2, 197.8 349.2 C206 349.2, 212.6 360, 212.6 378 Z" fill="#a0a0a0" opacity="0.4" filter="url(#halo)"/>
<path d="M183 378 C183 359, 189.5 348.5, 197.8 348.5 C206 348.5, 212.8 359, 212.8 378 Z" fill="#666" filter="url(#speck)"/>
<g filter="url(#blur1)">
<path d="M185 378 C185 363, 190.5 354.5, 197.8 354.3 C205 354.5, 210.8 363, 210.8 378 Z" fill="#7a7a7a" opacity="0.55"/>
<path d="M186.5 378 C187.5 368, 191.5 360.5, 197.8 360 C204 360.5, 208.3 368, 209.3 378 Z" fill="#444" opacity="0.75"/>
<path d="M189.5 377.5 L198.3 364 L207.2 377.5" fill="none" stroke="#111" stroke-width="1.6"/>
<path d="M186.5 373.6 C194 372.6, 203 372.6, 210 373.6 L210 378.6 C203 379.4, 194 379.4, 186.5 378.6 Z" fill="#111"/>
<ellipse cx="198.3" cy="371.5" rx="2.6" ry="2.6" fill="#999"/>
<ellipse cx="198.3" cy="375.8" rx="3.6" ry="0.8" fill="#888"/>
<path d="M217.5 352 C216.5 360, 216.5 370, 217.5 377" fill="none" stroke="#999" stroke-width="3" opacity="0.45" filter="url(#halo)"/>
<path d="M222.5 349.7 C226 349, 230 349.5, 231.2 351.5 C231.8 358, 231.6 370, 231.2 375.6 C229 378.2, 222 378.2, 219.4 376.4 C218.8 369, 219.2 356, 219.8 352 C220.3 350.6, 221.3 349.9, 222.5 349.7 Z" fill="#111"/>
<rect x="224.7" y="358.4" width="1.9" height="11.6" rx="0.9" fill="#bbb"/>
</g></g>
<rect x="182.50" y="328.40" width="61.80" height="60.90" fill="none" stroke="#2a2a2a" stroke-width="1.2"/>
<text x="185.70" y="337.60" font-size="8.90" font-weight="normal" text-anchor="start" fill="#111" stroke="#111" stroke-width="0.15">31</text>
<text x="241.90" y="337.60" font-size="8.90" font-weight="normal" text-anchor="end" fill="#111" stroke="#111" stroke-width="0.15">29</text>
<text x="185.70" y="387.10" font-size="8.90" font-weight="normal" text-anchor="start" fill="#111" stroke="#111" stroke-width="0.15">33</text>
<text x="242.70" y="387.10" font-size="8.90" font-weight="normal" text-anchor="end" fill="#111" stroke="#111" stroke-width="0.15">6</text>
<line x1="102.60" y1="395.20" x2="102.60" y2="380.00" stroke="#000" stroke-width="1.20" />
<path d="M102.6 376.2 L100.5 381.6 L104.7 381.6 Z" fill="#000"/>
<line x1="102.00" y1="394.70" x2="115.00" y2="394.70" stroke="#000" stroke-width="1.20" />
<path d="M119 394.7 L114.2 392.7 L114.2 396.7 Z" fill="#000"/>
<text transform="translate(98.6 379.1) rotate(-90)" font-size="10.6" text-anchor="middle" fill="#111" stroke="#111" stroke-width="0.15" textLength="25.4" lengthAdjust="spacingAndGlyphs">CD127</text>
<text x="104.5" y="406.3" font-size="10.4" fill="#111" stroke="#111" stroke-width="0.15" textLength="16.6" lengthAdjust="spacingAndGlyphs">CD4</text>
<text x="263.00" y="257.50" font-size="12.30" font-weight="bold" text-anchor="start" fill="#111" stroke="#111" stroke-width="0.3">D</text>
<line x1="296.20" y1="272.30" x2="296.20" y2="368.20" stroke="#000" stroke-width="1.40" />
<line x1="295.50" y1="367.50" x2="433.40" y2="367.50" stroke="#000" stroke-width="1.40" />
<line x1="293.20" y1="367.50" x2="296.20" y2="367.50" stroke="#000" stroke-width="1.20" />
<text x="290.70" y="370.30" font-size="7.90" font-weight="normal" text-anchor="end" fill="#111" stroke="#111" stroke-width="0.25">0</text>
<line x1="293.20" y1="349.02" x2="296.20" y2="349.02" stroke="#000" stroke-width="1.20" />
<text x="290.70" y="351.82" font-size="7.90" font-weight="normal" text-anchor="end" fill="#111" stroke="#111" stroke-width="0.25">20</text>
<line x1="293.20" y1="330.54" x2="296.20" y2="330.54" stroke="#000" stroke-width="1.20" />
<text x="290.70" y="333.34" font-size="7.90" font-weight="normal" text-anchor="end" fill="#111" stroke="#111" stroke-width="0.25">40</text>
<line x1="293.20" y1="312.06" x2="296.20" y2="312.06" stroke="#000" stroke-width="1.20" />
<text x="290.70" y="314.86" font-size="7.90" font-weight="normal" text-anchor="end" fill="#111" stroke="#111" stroke-width="0.25">60</text>
<line x1="293.20" y1="293.58" x2="296.20" y2="293.58" stroke="#000" stroke-width="1.20" />
<text x="290.70" y="296.38" font-size="7.90" font-weight="normal" text-anchor="end" fill="#111" stroke="#111" stroke-width="0.25">80</text>
<line x1="293.20" y1="275.10" x2="296.20" y2="275.10" stroke="#000" stroke-width="1.20" />
<text x="290.70" y="277.90" font-size="7.90" font-weight="normal" text-anchor="end" fill="#111" stroke="#111" stroke-width="0.25">100</text>
<line x1="314.10" y1="367.50" x2="314.10" y2="370.80" stroke="#000" stroke-width="1.20" />
<line x1="347.70" y1="367.50" x2="347.70" y2="370.80" stroke="#000" stroke-width="1.20" />
<line x1="382.50" y1="367.50" x2="382.50" y2="370.80" stroke="#000" stroke-width="1.20" />
<line x1="416.40" y1="367.50" x2="416.40" y2="370.80" stroke="#000" stroke-width="1.20" />
<line x1="314.90" y1="270.80" x2="347.50" y2="270.80" stroke="#000" stroke-width="1.30" />
<line x1="312.90" y1="285.00" x2="381.60" y2="285.00" stroke="#000" stroke-width="1.30" />
<circle cx="325.40" cy="266.00" r="1.2" fill="#1a1a1a"/>
<circle cx="329.40" cy="266.00" r="1.2" fill="#1a1a1a"/>
<circle cx="333.40" cy="266.00" r="1.2" fill="#1a1a1a"/>
<circle cx="342.10" cy="281.90" r="1.2" fill="#1a1a1a"/>
<circle cx="346.10" cy="281.90" r="1.2" fill="#1a1a1a"/>
<circle cx="350.10" cy="281.90" r="1.2" fill="#1a1a1a"/>
<circle cx="313.50" cy="292.50" r="2.75" fill="#2b3d7c"/>
<circle cx="317.00" cy="297.70" r="2.75" fill="#2b3d7c"/>
<circle cx="310.00" cy="304.10" r="2.75" fill="#2b3d7c"/>
<circle cx="313.50" cy="321.70" r="2.75" fill="#2b3d7c"/>
<circle cx="313.60" cy="338.20" r="2.75" fill="#2b3d7c"/>
<line x1="301.90" y1="311.30" x2="325.10" y2="311.30" stroke="#111" stroke-width="1.30" />
<line x1="313.50" y1="292.50" x2="313.50" y2="329.60" stroke="#111" stroke-width="1.30" />
<line x1="307.10" y1="292.50" x2="319.90" y2="292.50" stroke="#111" stroke-width="1.30" />
<line x1="307.10" y1="329.60" x2="319.90" y2="329.60" stroke="#111" stroke-width="1.30" />
<circle cx="347.70" cy="318.00" r="2.75" fill="#b3102f"/>
<circle cx="339.00" cy="348.40" r="2.75" fill="#b3102f"/>
<circle cx="356.40" cy="347.50" r="2.75" fill="#b3102f"/>
<circle cx="344.80" cy="353.30" r="2.75" fill="#b3102f"/>
<circle cx="350.60" cy="353.30" r="2.75" fill="#b3102f"/>
<line x1="336.10" y1="344.10" x2="359.30" y2="344.10" stroke="#111" stroke-width="1.30" />
<line x1="347.80" y1="329.00" x2="347.80" y2="358.60" stroke="#111" stroke-width="1.30" />
<line x1="341.60" y1="329.00" x2="354.00" y2="329.00" stroke="#111" stroke-width="1.30" />
<line x1="341.60" y1="358.60" x2="354.00" y2="358.60" stroke="#111" stroke-width="1.30" />
<circle cx="382.20" cy="325.10" r="2.75" fill="#2b3d7c"/>
<circle cx="382.20" cy="335.10" r="2.75" fill="#2b3d7c"/>
<circle cx="382.20" cy="342.50" r="2.75" fill="#2b3d7c"/>
<circle cx="378.40" cy="353.50" r="2.75" fill="#2b3d7c"/>
<circle cx="385.10" cy="353.50" r="2.75" fill="#2b3d7c"/>
<line x1="370.60" y1="342.50" x2="393.80" y2="342.50" stroke="#111" stroke-width="1.30" />
<line x1="382.20" y1="329.90" x2="382.20" y2="353.50" stroke="#111" stroke-width="1.30" />
<line x1="376.40" y1="329.90" x2="388.00" y2="329.90" stroke="#111" stroke-width="1.30" />
<line x1="376.40" y1="353.50" x2="388.00" y2="353.50" stroke="#111" stroke-width="1.30" />
<line x1="410.00" y1="358.00" x2="423.00" y2="358.00" stroke="#111" stroke-width="1.30" />
<line x1="416.40" y1="348.60" x2="416.40" y2="360.00" stroke="#111" stroke-width="1.30" />
<line x1="410.60" y1="348.60" x2="422.20" y2="348.60" stroke="#111" stroke-width="1.30" />
<circle cx="416.40" cy="342.90" r="2.75" fill="#b3102f"/>
<circle cx="408.20" cy="358.20" r="2.75" fill="#b3102f"/>
<circle cx="425.70" cy="356.80" r="2.75" fill="#b3102f"/>
<circle cx="413.90" cy="360.80" r="2.75" fill="#b3102f"/>
<circle cx="419.00" cy="360.80" r="2.75" fill="#b3102f"/>
<text x="330.30" y="384.60" font-size="7.80" font-weight="normal" text-anchor="middle" fill="#111" stroke="#111" stroke-width="0.2">iNKT cells</text>
<text x="399.60" y="384.60" font-size="7.80" font-weight="normal" text-anchor="middle" fill="#111" stroke="#111" stroke-width="0.2">T cells</text>
<text transform="translate(272.2 319.5) rotate(-90)" font-size="9.6" text-anchor="middle" fill="#111" stroke="#111" stroke-width="0.2" textLength="49.5" lengthAdjust="spacingAndGlyphs">CD127 (RFI)</text>
<circle cx="405.5" cy="266.9" r="2.3" fill="#2b3d7c"/>
<circle cx="405.5" cy="286.2" r="2.3" fill="#b3102f"/>
<text x="411.80" y="270.20" font-size="7.30" font-weight="normal" text-anchor="start" fill="#222" >Stable CLL</text>
<text x="411.80" y="278.90" font-size="7.30" font-weight="normal" text-anchor="start" fill="#222" >CD1d</text>
<text x="430.40" y="275.80" font-size="4.70" font-weight="normal" text-anchor="start" fill="#222" >Neg/Low</text>
<text x="411.80" y="288.90" font-size="7.30" font-weight="normal" text-anchor="start" fill="#222" >Progressive CLL</text>
<text x="411.80" y="297.40" font-size="7.30" font-weight="normal" text-anchor="start" fill="#222" >CD1d</text>
<text x="430.40" y="294.20" font-size="4.70" font-weight="normal" text-anchor="start" fill="#222" >High</text>
</g>
</svg></body></html>
